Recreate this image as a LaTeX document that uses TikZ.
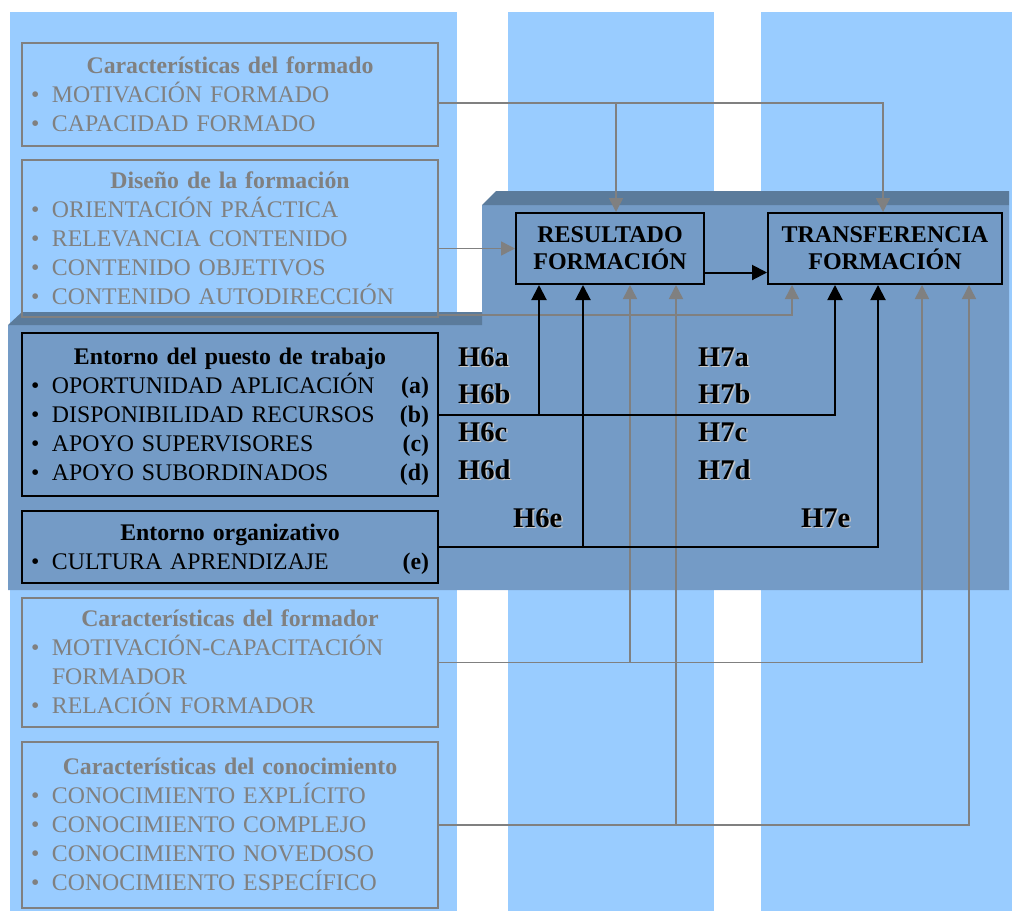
\documentclass[tikz,border=0pt]{standalone}
\usepackage{fontspec}
\setmainfont{Liberation Serif}
\usetikzlibrary{arrows.meta}

\definecolor{colblue}{RGB}{153,204,255}
\definecolor{panelblue}{RGB}{116,155,198}
\definecolor{paneltop}{RGB}{91,123,155}
\definecolor{linegray}{RGB}{128,128,128}
\definecolor{shadowgray}{RGB}{200,200,200}

\newcommand\lstrut{\rule[-6.6pt]{0pt}{29pt}}
\newcommand\ttl[1]{\makebox[\hsize]{\lstrut\bfseries #1}}
\newcommand\itm[2][]{\makebox[\hsize][s]{\lstrut\makebox[21pt][l]{\textbullet}#2\hfill#1}}
\newcommand\itmcont[1]{\makebox[\hsize][l]{\lstrut\hspace*{21pt}#1}}
\newcommand\hshad[1]{\makebox[0pt][l]{\kern1.5pt\raisebox{-1.5pt}{\color{shadowgray}#1}}#1}

\tikzset{
  every node/.style={inner sep=0pt},
  box/.style={line width=2pt, minimum width=416pt, text width=398pt, inner xsep=9pt,
    align=left, font=\fontsize{23.8}{29}\selectfont},
  gbox/.style={box, draw=linegray, text=linegray},
  bbox/.style={box, draw=black, text=black},
  target/.style={draw=black, line width=2pt, align=center, minimum height=71pt,
    font=\bfseries\fontsize{24}{27}\selectfont},
  hlab/.style={anchor=base west, font=\bfseries\fontsize{28.5}{30}\selectfont},
  gline/.style={draw=linegray, line width=1.5pt, -{Triangle[length=14pt,width=14pt]}},
  bline/.style={draw=black, line width=2pt, -{Triangle[length=15pt,width=15pt]}},
}

\begin{document}
\begin{tikzpicture}[x=1pt,y=-1pt]
\useasboundingbox (0,0) rectangle (1012,911);
% background columns
\foreach \xa/\xb in {10/457, 508/714, 761/1012}
  \fill[colblue] (\xa,12) rectangle (\xb,911);
% panel
\fill[panelblue] (482,205) -- (1009,205) -- (1009,590) -- (8,590) -- (8,325) -- (482,325) -- cycle;
\fill[paneltop] (482,205) -- (496,191) -- (1009,191) -- (1009,205) -- cycle;
\fill[paneltop] (8,325) -- (22,312) -- (482,312) -- (482,325) -- cycle;

% boxes
\node[gbox, minimum height=103pt] (formado) at (230,94.5)
  {\ttl{Características del formado}\\
   \itm{MOTIVACIÓN FORMADO}\\
   \itm{CAPACIDAD FORMADO}};
\node[gbox, minimum height=157pt] (diseno) at (230,238.5)
  {\ttl{Diseño de la formación}\\
   \itm{ORIENTACIÓN PRÁCTICA}\\
   \itm{RELEVANCIA CONTENIDO}\\
   \itm{CONTENIDO OBJETIVOS}\\
   \itm{CONTENIDO AUTODIRECCIÓN}};
\node[bbox, minimum height=163pt] (puesto) at (230,414.5)
  {\ttl{Entorno del puesto de trabajo}\\
   \itm[\textbf{(a)}]{OPORTUNIDAD APLICACIÓN}\\
   \itm[\textbf{(b)}]{DISPONIBILIDAD RECURSOS}\\
   \itm[\textbf{(c)}]{APOYO SUPERVISORES}\\
   \itm[\textbf{(d)}]{APOYO SUBORDINADOS}};
\node[bbox, minimum height=72pt] (org) at (230,547)
  {\ttl{Entorno organizativo}\\
   \itm[\textbf{(e)}]{CULTURA APRENDIZAJE}};
\node[gbox, minimum height=129pt] (formador) at (230,662.5)
  {\ttl{Características del formador}\\
   \itm{MOTIVACIÓN-CAPACITACIÓN}\\
   \itmcont{FORMADOR}\\
   \itm{RELACIÓN FORMADOR}};
\node[gbox, minimum height=166pt] (conoc) at (230,825)
  {\ttl{Características del conocimiento}\\
   \itm{CONOCIMIENTO EXPLÍCITO}\\
   \itm{CONOCIMIENTO COMPLEJO}\\
   \itm{CONOCIMIENTO NOVEDOSO}\\
   \itm{CONOCIMIENTO ESPECÍFICO}};
\node[target, minimum width=188pt] (res) at (610,248.5) {RESULTADO\\FORMACIÓN};
\node[target, minimum width=234pt] (tra) at (885,248.5) {TRANSFERENCIA\\FORMACIÓN};

% gray connectors
\coordinate (fo) at ([yshift=-8.5pt]formado.east);
\draw[gline] (fo) -| ([xshift=6pt]res.north);
\draw[gline] (fo) -| ([xshift=-2pt]tra.north);
\draw[gline] (diseno.east |- res.west) -- (res.west);
\coordinate (di) at ([yshift=3pt]diseno.south east);
\draw[gline] (di) -| ([xshift=-93pt]tra.south);
\draw[gline] (formador.east) -| ([xshift=20pt]res.south);
\draw[gline] (formador.east) -| ([xshift=37pt]tra.south);
\draw[gline] (conoc.east) -| ([xshift=66pt]res.south);
\draw[gline] (conoc.east) -| ([xshift=84pt]tra.south);
% black connectors
\draw[bline] (puesto.east) -| ([xshift=-71pt]res.south);
\draw[bline] (puesto.east) -| ([xshift=-50pt]tra.south);
\draw[bline] (org.east) -| ([xshift=-27pt]res.south);
\draw[bline] (org.east) -| ([xshift=-7pt]tra.south);
\draw[bline] ([yshift=-24pt]res.east) -- ([yshift=-24pt]tra.west);

% hypotheses
\foreach \l/\y in {a/366, b/403, c/441, d/479}{
  \node[hlab] (h6\l) at (458,\y) {\hshad{H6\l}};
  \node[hlab] (h7\l) at (698,\y) {\hshad{H7\l}};
}
\node[hlab] (h6e) at (513,527) {\hshad{H6e}};
\node[hlab] (h7e) at (801,527) {\hshad{H7e}};
\end{tikzpicture}
\end{document}
